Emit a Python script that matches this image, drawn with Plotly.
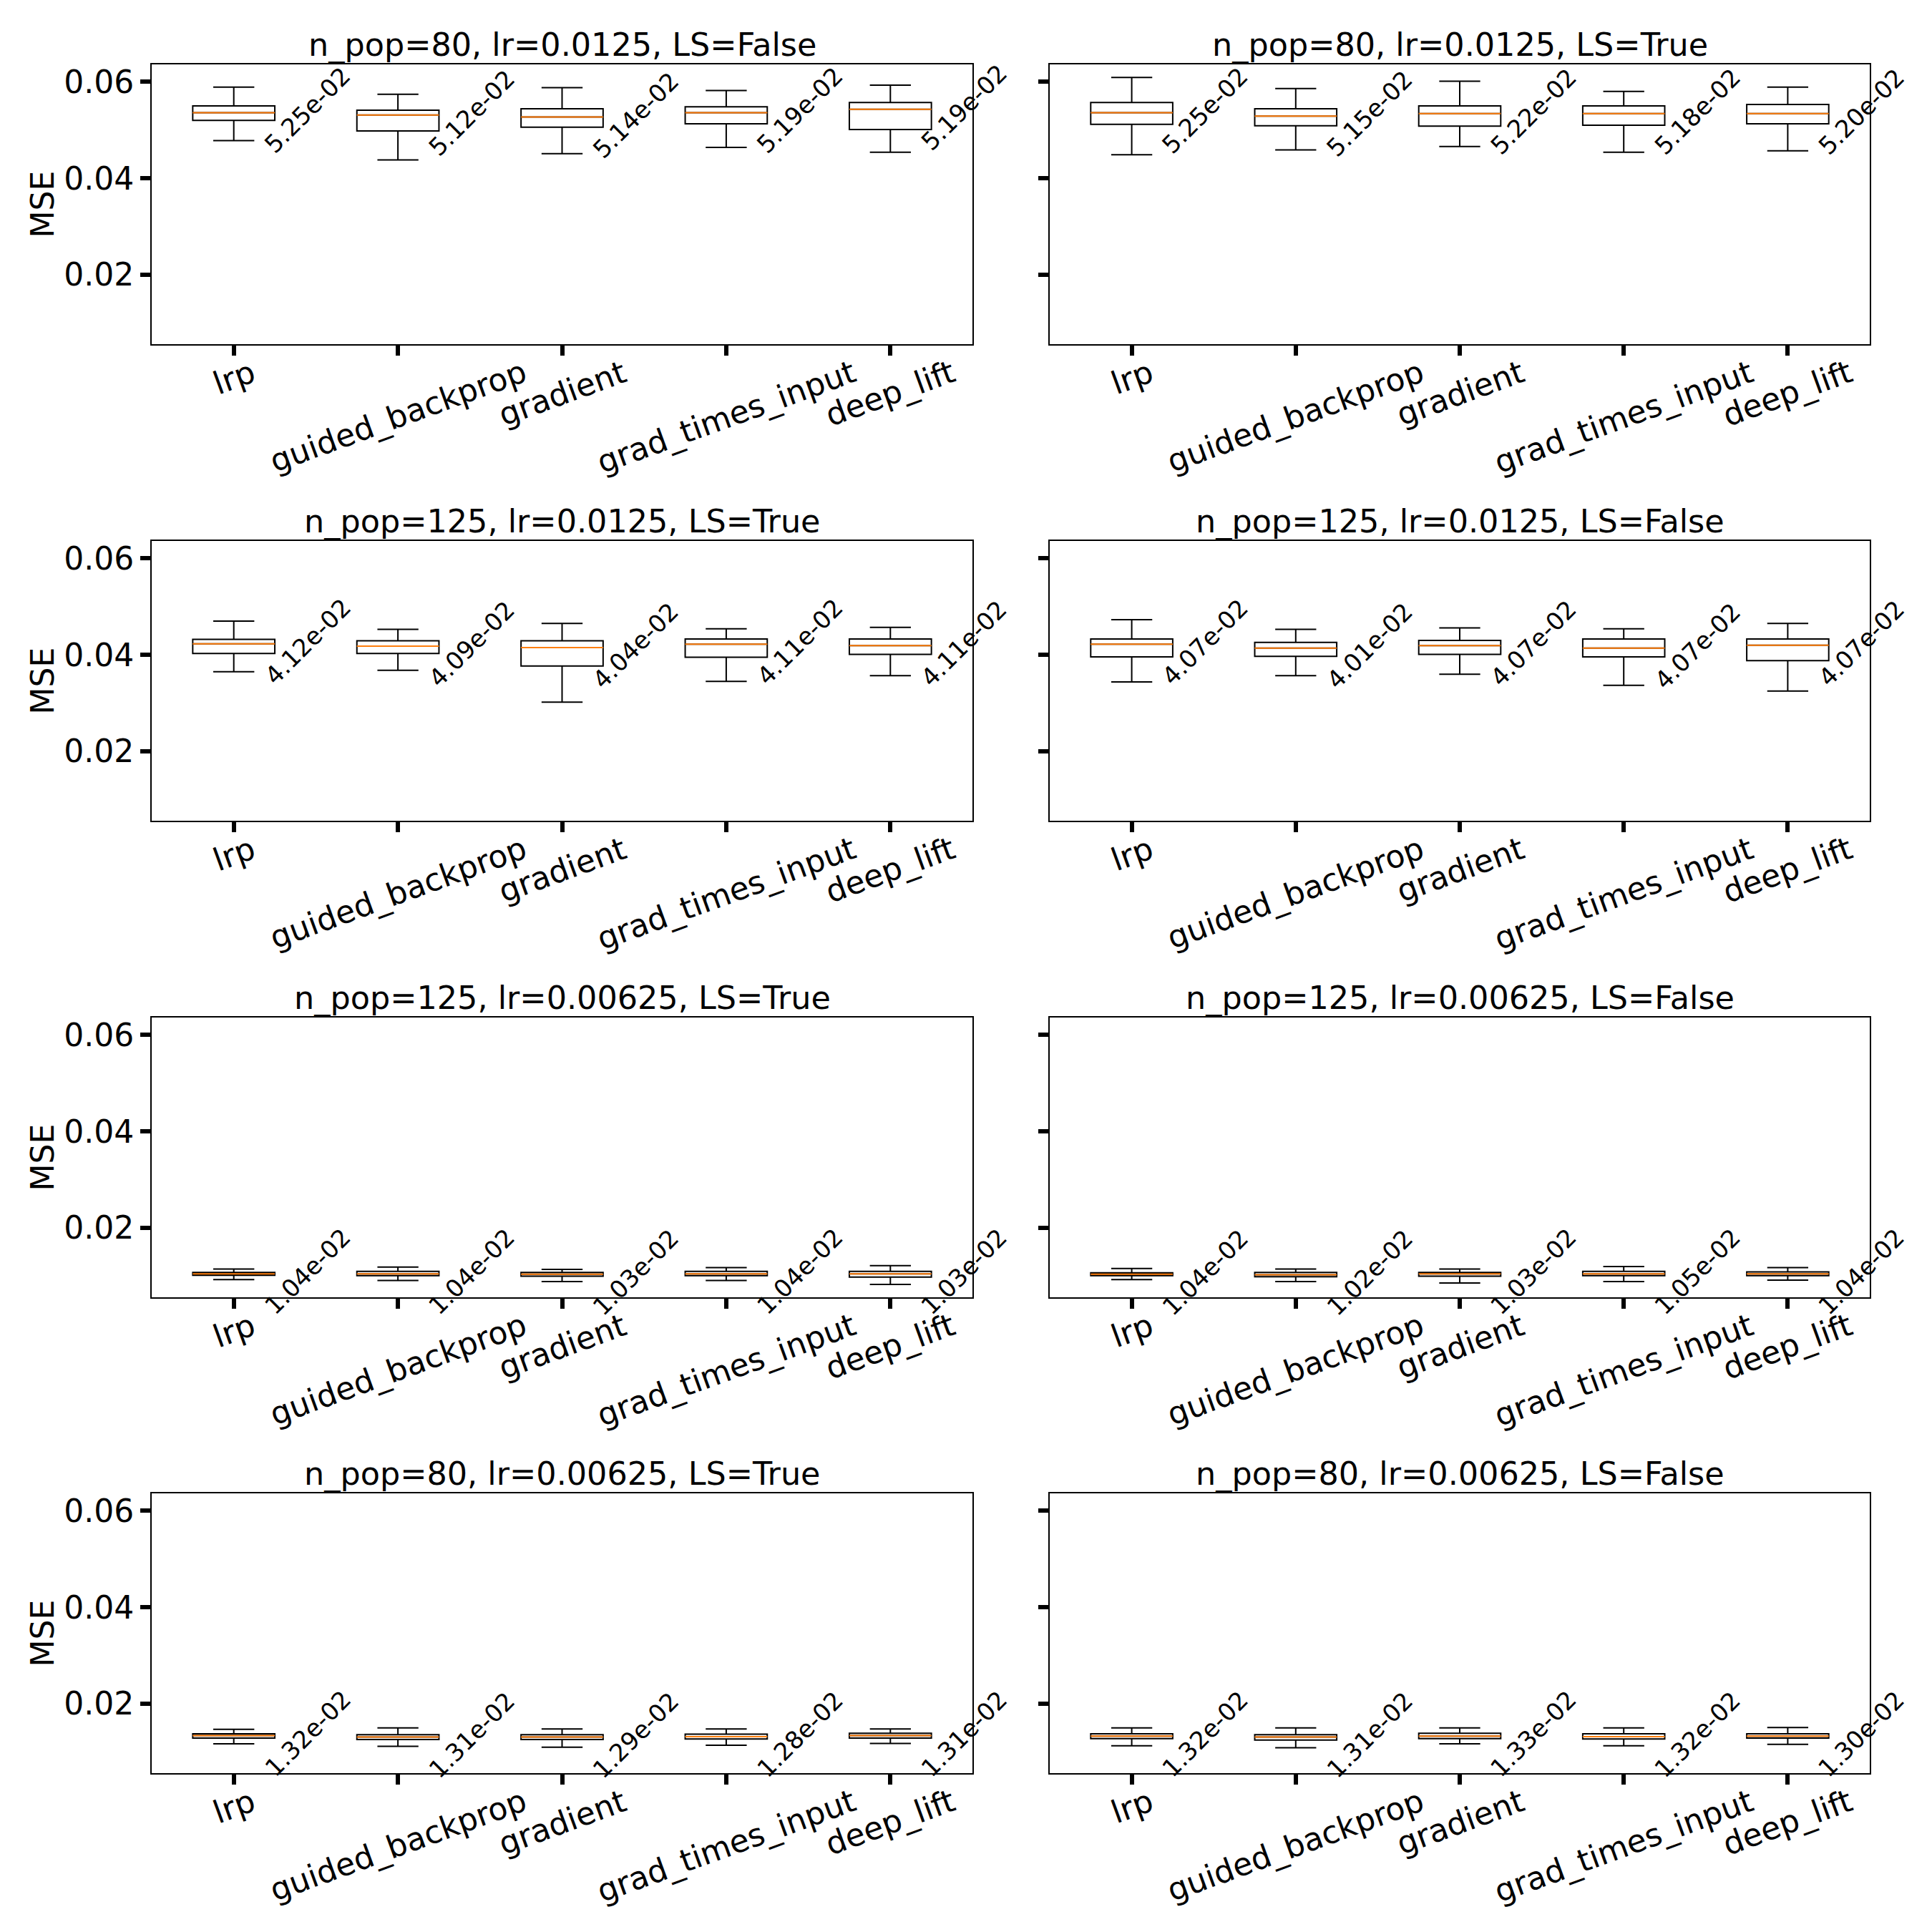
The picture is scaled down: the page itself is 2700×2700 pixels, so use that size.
import plotly.graph_objects as go
from plotly.subplots import make_subplots

# ── data ──────────────────────────────────────────────────────────
METHODS = ["lrp", "guided_backprop", "gradient", "grad_times_input", "deep_lift"]

PANEL_TITLES = [
    "n_pop=80, lr=0.0125, LS=False",
    "n_pop=80, lr=0.0125, LS=True",
    "n_pop=125, lr=0.0125, LS=True",
    "n_pop=125, lr=0.0125, LS=False",
    "n_pop=125, lr=0.00625, LS=True",
    "n_pop=125, lr=0.00625, LS=False",
    "n_pop=80, lr=0.00625, LS=True",
    "n_pop=80, lr=0.00625, LS=False",
]

UPPER = [
    [0.0589, 0.0574, 0.0588, 0.0582, 0.0593],
    [0.0609, 0.0586, 0.0601, 0.0580, 0.0589],
    [0.0470, 0.0453, 0.0465, 0.0454, 0.0457],
    [0.0473, 0.0453, 0.0456, 0.0454, 0.0465],
    [0.0115, 0.0119, 0.0114, 0.0118, 0.0122],
    [0.0116, 0.0115, 0.0115, 0.0120, 0.0118],
    [0.0147, 0.0150, 0.0148, 0.0148, 0.0148],
    [0.0150, 0.0150, 0.0150, 0.0150, 0.0151],
]
Q3 = [
    [0.0550, 0.0541, 0.0544, 0.0548, 0.0557],
    [0.0557, 0.0544, 0.0550, 0.0550, 0.0553],
    [0.0432, 0.0429, 0.0429, 0.0433, 0.0433],
    [0.0433, 0.0426, 0.0430, 0.0433, 0.0433],
    [0.0108, 0.0110, 0.0108, 0.0110, 0.0110],
    [0.0107, 0.0108, 0.0108, 0.0110, 0.0109],
    [0.0138, 0.0136, 0.0136, 0.0137, 0.0139],
    [0.0138, 0.0136, 0.0139, 0.0138, 0.0138],
]
MEDIAN = [
    [0.0536, 0.0531, 0.0527, 0.0536, 0.0543],
    [0.0536, 0.0529, 0.0534, 0.0534, 0.0534],
    [0.0423, 0.0418, 0.0415, 0.0422, 0.0419],
    [0.0422, 0.0414, 0.0419, 0.0414, 0.0420],
    [0.0105, 0.0105, 0.0104, 0.0105, 0.0105],
    [0.0104, 0.0103, 0.0105, 0.0105, 0.0105],
    [0.0134, 0.0131, 0.0131, 0.0132, 0.0134],
    [0.0133, 0.0131, 0.0133, 0.0132, 0.0133],
]
Q1 = [
    [0.0520, 0.0498, 0.0506, 0.0513, 0.0501],
    [0.0512, 0.0509, 0.0508, 0.0510, 0.0513],
    [0.0403, 0.0403, 0.0377, 0.0395, 0.0401],
    [0.0396, 0.0397, 0.0401, 0.0396, 0.0388],
    [0.0102, 0.0101, 0.0100, 0.0101, 0.0098],
    [0.0101, 0.0099, 0.0100, 0.0101, 0.0101],
    [0.0129, 0.0126, 0.0126, 0.0127, 0.0129],
    [0.0128, 0.0125, 0.0128, 0.0127, 0.0129],
]
LOWER = [
    [0.0478, 0.0438, 0.0451, 0.0464, 0.0454],
    [0.0449, 0.0459, 0.0466, 0.0454, 0.0457],
    [0.0365, 0.0368, 0.0302, 0.0345, 0.0357],
    [0.0344, 0.0357, 0.0360, 0.0337, 0.0325],
    [0.0093, 0.0091, 0.0089, 0.0091, 0.0083],
    [0.0093, 0.0089, 0.0086, 0.0089, 0.0092],
    [0.0117, 0.0112, 0.0110, 0.0114, 0.0118],
    [0.0113, 0.0109, 0.0117, 0.0113, 0.0116],
]
MEANS = [
    [5.25e-02, 5.12e-02, 5.14e-02, 5.19e-02, 5.19e-02],
    [5.25e-02, 5.15e-02, 5.22e-02, 5.18e-02, 5.20e-02],
    [4.12e-02, 4.09e-02, 4.04e-02, 4.11e-02, 4.11e-02],
    [4.07e-02, 4.01e-02, 4.07e-02, 4.07e-02, 4.07e-02],
    [1.04e-02, 1.04e-02, 1.03e-02, 1.04e-02, 1.03e-02],
    [1.04e-02, 1.02e-02, 1.03e-02, 1.05e-02, 1.04e-02],
    [1.32e-02, 1.31e-02, 1.29e-02, 1.28e-02, 1.31e-02],
    [1.32e-02, 1.31e-02, 1.33e-02, 1.32e-02, 1.30e-02],
]

Y_RANGE = [0.00563, 0.0636]
Y_TICKS = [0.02, 0.04, 0.06]
# ───────────────────────────────────────────────────────────────────

W = H = 2700
FONT = "DejaVu Sans"
COL_X = [(204, 1351), (1459, 2605)]           # plot area, px from left
ROW_Y = [(82, 473), (748, 1139), (1414, 1805), (2079, 2470)]  # px from top


def text_font(size):
    return dict(size=size, family=FONT, color="black")


fig = make_subplots(rows=4, cols=2)
annotations = []

for k, title in enumerate(PANEL_TITLES):
    row, col = divmod(k, 2)
    n = "" if k == 0 else str(k + 1)

    fig.add_trace(go.Box(
        x=METHODS, q1=Q1[k], median=MEDIAN[k], q3=Q3[k],
        lowerfence=LOWER[k], upperfence=UPPER[k],
        width=0.5, whiskerwidth=0.5, boxpoints=False,
        line=dict(color="black", width=2),
        fillcolor="rgba(0,0,0,0)", showlegend=False, hoverinfo="skip",
    ), row=row + 1, col=col + 1)
    # orange median line drawn as a flat box on top
    fig.add_trace(go.Box(
        x=METHODS, q1=MEDIAN[k], median=MEDIAN[k], q3=MEDIAN[k],
        lowerfence=MEDIAN[k], upperfence=MEDIAN[k],
        width=0.5, whiskerwidth=0, boxpoints=False,
        line=dict(color="#ff7f0e", width=2),
        fillcolor="rgba(0,0,0,0)", showlegend=False, hoverinfo="skip",
    ), row=row + 1, col=col + 1)

    x0, x1 = COL_X[col]
    y0, y1 = ROW_Y[row]
    fig.layout[f"xaxis{n}"].update(
        domain=[x0 / W, x1 / W], type="category", categoryarray=METHODS,
        range=[-0.5, len(METHODS) - 0.5], showticklabels=False,
        ticks="outside", ticklen=14, tickwidth=6, tickcolor="black",
        showline=True, linecolor="black", linewidth=2, mirror=True,
        showgrid=False, zeroline=False,
    )
    fig.layout[f"yaxis{n}"].update(
        domain=[1 - y1 / H, 1 - y0 / H], range=Y_RANGE,
        tickvals=Y_TICKS, tickformat=".2f", showticklabels=(col == 0),
        ticks="outside", ticklen=14, tickwidth=6, tickcolor="black",
        tickfont=text_font(44),
        showline=True, linecolor="black", linewidth=2, mirror=True,
        showgrid=False, zeroline=False,
    )

    annotations.append(dict(
        text=title, xref=f"x{n} domain", yref=f"y{n} domain",
        x=0.5, y=1, xanchor="center", yanchor="bottom", yshift=-1,
        showarrow=False, font=text_font(44.5),
    ))
    if col == 0:
        annotations.append(dict(
            text="MSE", xref="paper", yref=f"y{n} domain",
            x=51 / W, y=0.5, xanchor="center", yanchor="middle",
            textangle=-90, showarrow=False, font=text_font(44),
        ))
    for i, m in enumerate(METHODS):
        # rotated category label, centred under its tick
        annotations.append(dict(
            text=m, xref=f"x{n}", yref=f"y{n} domain", x=i, y=0,
            xanchor="center", yanchor="top", yshift=-10, textangle=-20,
            showarrow=False, font=text_font(44),
        ))
        # mean value written beside each box
        annotations.append(dict(
            text=f"{MEANS[k][i]:.2e}", xref=f"x{n}", yref=f"y{n}",
            x=i + 0.14, y=MEDIAN[k][i], xanchor="left", yanchor="middle",
            yshift=3, textangle=-45, showarrow=False, font=text_font(34),
        ))

fig.update_layout(
    width=W, height=H,
    margin=dict(l=0, r=0, t=0, b=0),
    paper_bgcolor="white", plot_bgcolor="white",
    font=dict(family=FONT, color="black"),
    boxmode="overlay",
    annotations=annotations,
)

fig.write_html("out.html")
